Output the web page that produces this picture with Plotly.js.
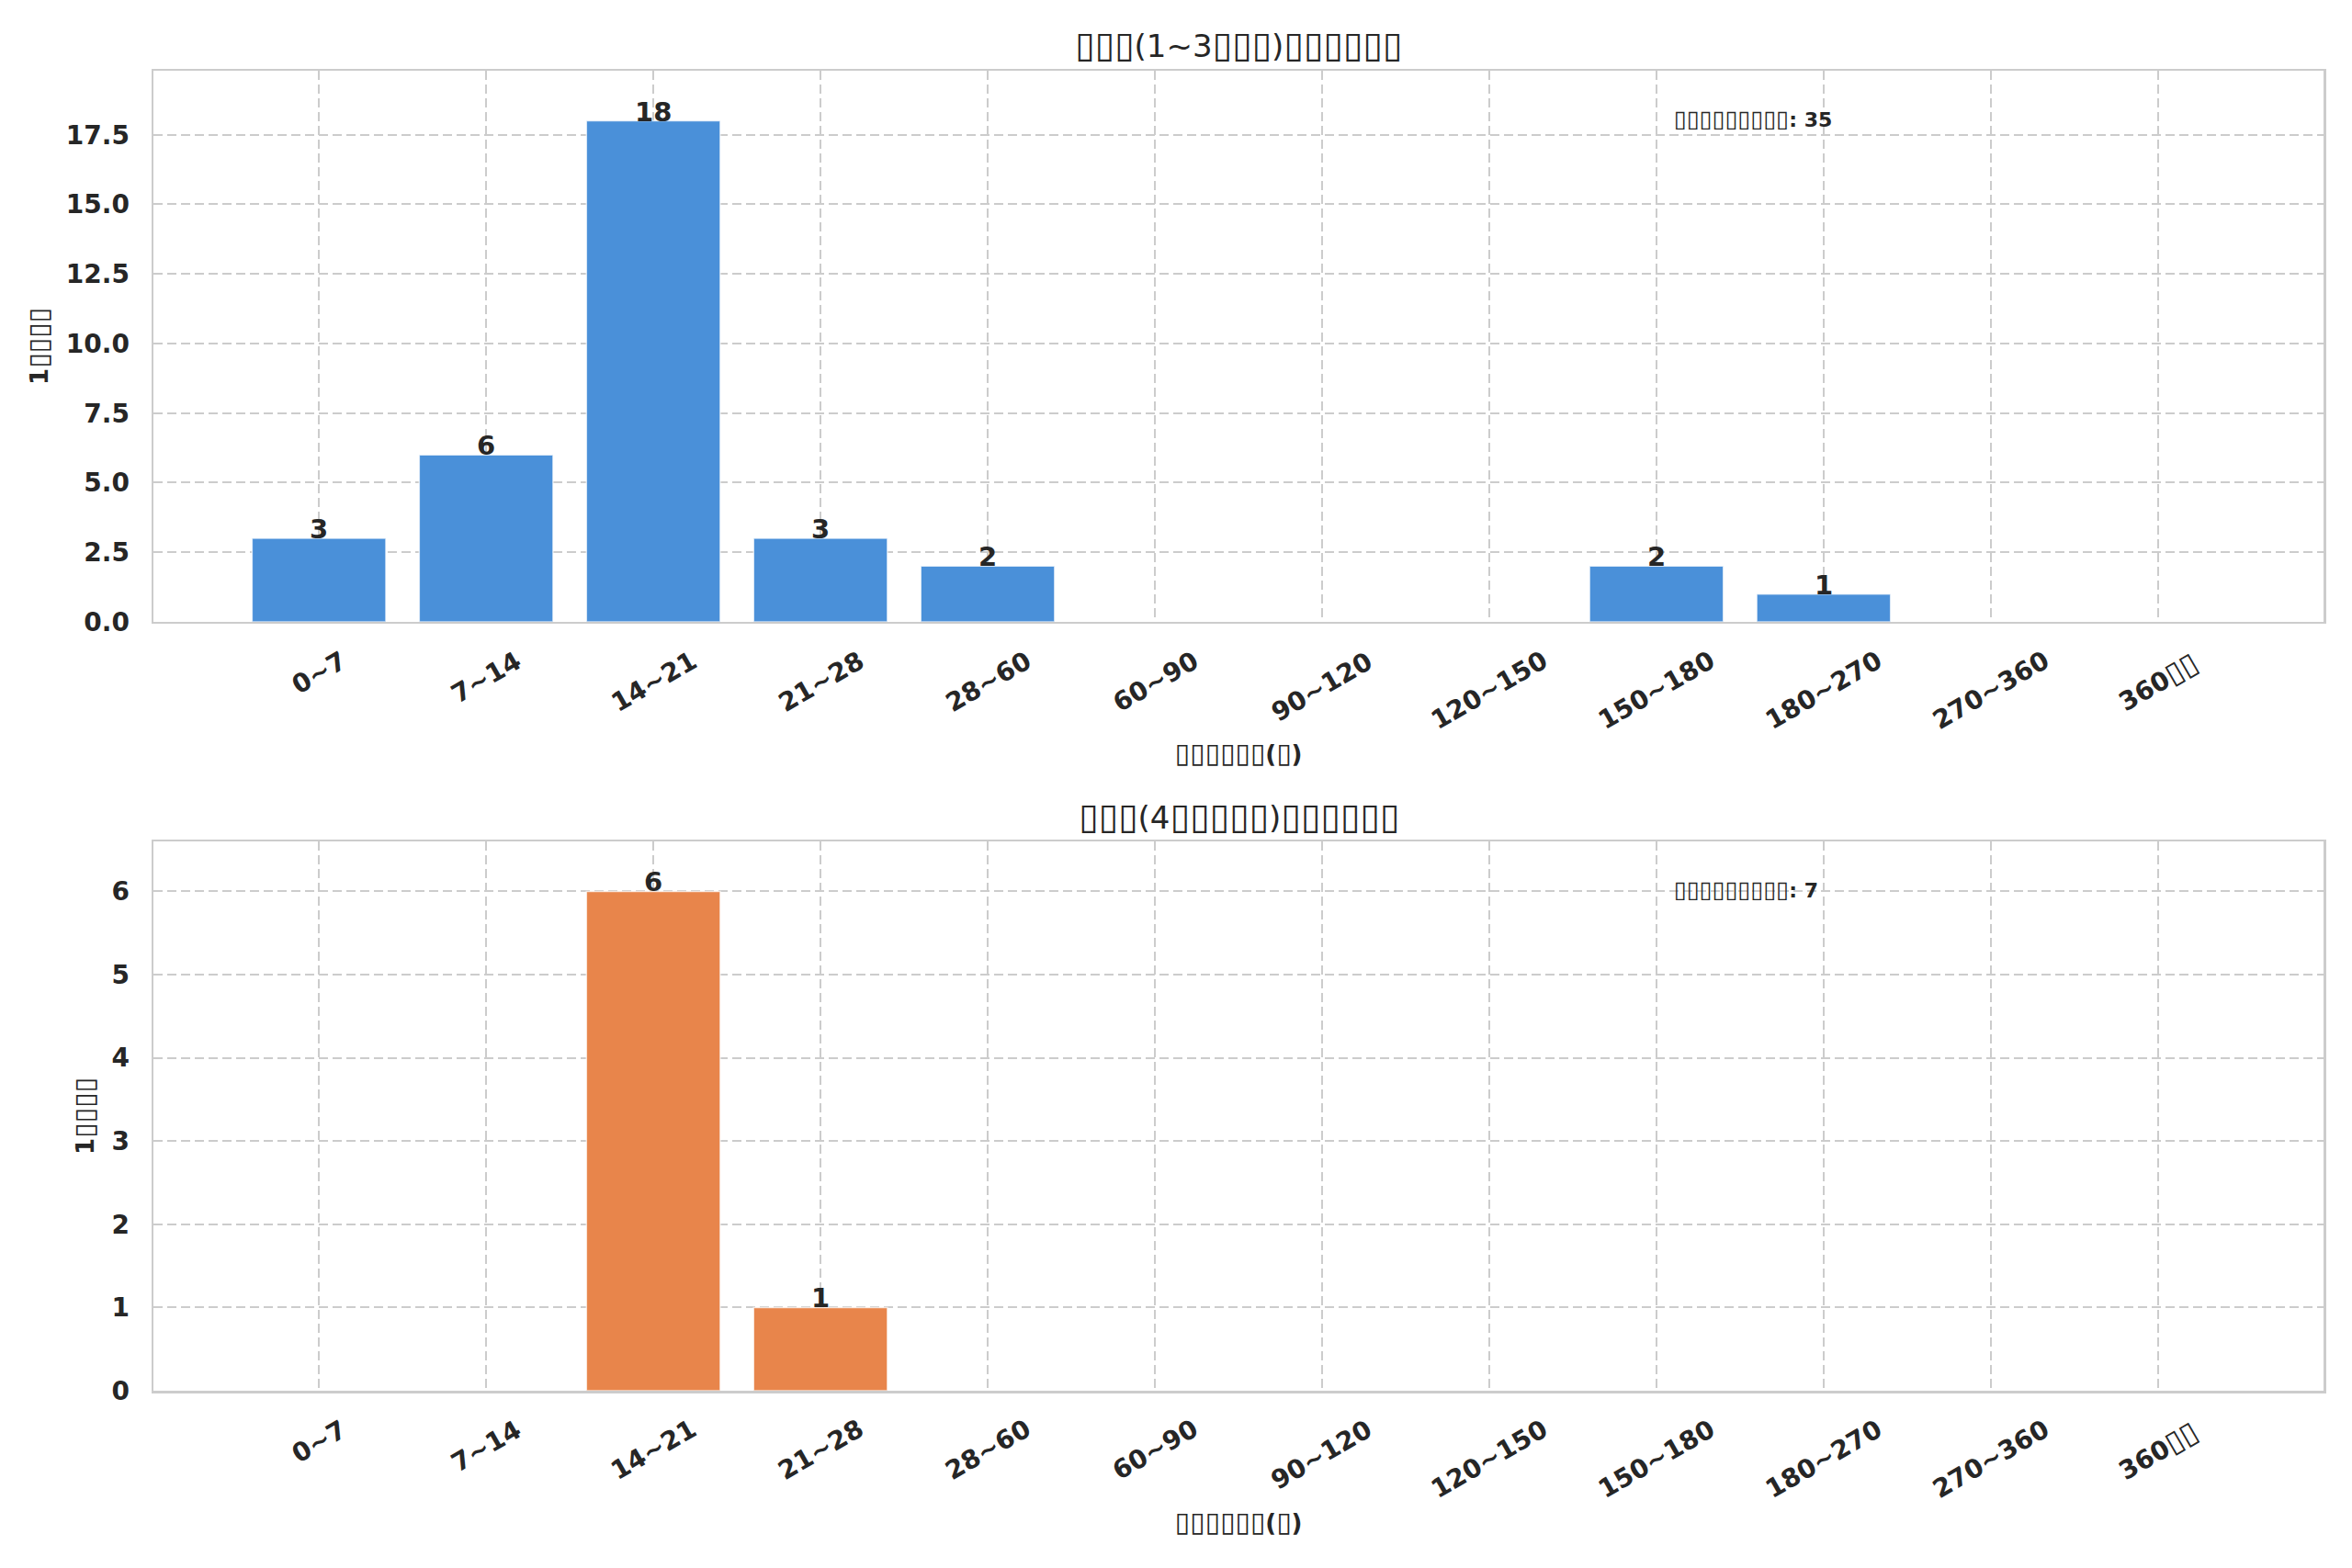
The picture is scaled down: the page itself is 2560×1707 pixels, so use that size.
<!DOCTYPE html>
<html>
<head>
<meta charset="utf-8">
<script src="https://cdn.plot.ly/plotly-3.0.1.min.js"></script>
<style>
  html, body { margin: 0; padding: 0; background: #ffffff; }
  #chart { width: 2560px; height: 1707px; }
</style>
</head>
<body>
<div id="chart"></div>
<script>
// ── data (the source labels render as missing-glyph boxes) ──
const CATEGORIES   = ['0~7', '7~14', '14~21', '21~28', '28~60', '60~90', '90~120',
                      '120~150', '150~180', '180~270', '270~360', '360▯▯'];
const NEW_COUNTS   = [3, 6, 18, 3, 2, 0, 0, 0, 2, 1, 0, 0];
const EXIST_COUNTS = [0, 0, 6, 1, 0, 0, 0, 0, 0, 0, 0, 0];

const TITLE_TOP    = '▯▯▯(1~3▯▯▯)▯▯▯▯▯▯';
const TITLE_BOTTOM = '▯▯▯(4▯▯▯▯▯)▯▯▯▯▯▯';
const X_LABEL      = '▯▯▯▯▯▯(▯)';
const Y_LABEL      = '1▯▯▯▯';
const TOTAL_LABEL  = '▯▯▯▯▯▯▯▯▯';

const FONT = "'DejaVu Sans', sans-serif";
const INK  = '#262626';
const GRID = '#cccccc';

// box glyphs a little larger, closer to the missing-glyph boxes of the source
const tofu = s => s.replace(/▯+/g, m => `<span style="font-size:1.15em">${m}</span>`);
const sum  = arr => arr.reduce((a, b) => a + b, 0);

function barTrace(values, color, xa, ya) {
  return {
    type: 'bar',
    x: CATEGORIES, y: values,
    xaxis: xa, yaxis: ya,
    width: 0.8,
    marker: { color: color, line: { color: 'rgba(255,255,255,0.7)', width: 1.5 } },
    hoverinfo: 'x+y',
  };
}

function xAxis(anchor) {
  return {
    anchor: anchor, domain: [0, 1],
    type: 'category', range: [-0.99, 11.99],
    showticklabels: false, ticks: '',
    showgrid: true, gridcolor: GRID, gridwidth: 2, griddash: '10px,5px',
    showline: true, mirror: true, linecolor: GRID, linewidth: 2.5,
    zeroline: false,
    title: { text: tofu(X_LABEL), standoff: 134, font: { family: FONT, size: 26, color: INK, weight: 'bold' } },
  };
}

function yAxis(anchor, domain, max, dtick, fmt) {
  return {
    anchor: anchor, domain: domain,
    range: [0, max], dtick: dtick, tick0: 0, tickformat: fmt,
    ticks: 'outside', ticklen: 18, tickcolor: 'rgba(0,0,0,0)',
    tickfont: { family: FONT, size: 28, color: INK, weight: 'bold' },
    showgrid: true, gridcolor: GRID, gridwidth: 2, griddash: '10px,5px',
    showline: true, mirror: true, linecolor: GRID, linewidth: 2.5,
    zeroline: false,
    title: { text: tofu(Y_LABEL), standoff: 12, font: { family: FONT, size: 26, color: INK, weight: 'bold' } },
  };
}

function tickLabels(xref, yref) {
  return CATEGORIES.map(c => ({
    x: c, xref: xref, y: -0.038, yref: yref,
    text: tofu(c), textangle: -30, showarrow: false,
    xanchor: 'center', yanchor: 'top',
    font: { family: FONT, size: 28, color: INK, weight: 'bold' },
  }));
}

function barLabels(values, xref, yref) {
  return values.map((v, i) => ({ v: v, c: CATEGORIES[i] }))
    .filter(d => d.v > 0)
    .map(d => ({
      x: d.c, y: d.v, xref: xref, yref: yref,
      text: String(d.v), showarrow: false,
      xanchor: 'center', yanchor: 'bottom', yshift: -9,
      font: { family: FONT, size: 29, color: INK, weight: 'bold' },
    }));
}

const annotations = [
  { text: tofu(TITLE_TOP), xref: 'paper', yref: 'paper', x: 0.5, y: 1.0195, showarrow: false,
    xanchor: 'center', yanchor: 'middle', font: { family: FONT, size: 34, color: INK } },
  { text: tofu(TITLE_BOTTOM), xref: 'paper', yref: 'paper', x: 0.5, y: 0.4356, showarrow: false,
    xanchor: 'center', yanchor: 'middle', font: { family: FONT, size: 34, color: INK } },
  { text: tofu(TOTAL_LABEL) + ': ' + sum(NEW_COUNTS), xref: 'x domain', yref: 'y domain',
    x: 0.70, y: 0.913, xanchor: 'left', yanchor: 'middle', showarrow: false,
    font: { family: FONT, size: 22, color: INK, weight: 'bold' } },
  { text: tofu(TOTAL_LABEL) + ': ' + sum(EXIST_COUNTS), xref: 'x2 domain', yref: 'y2 domain',
    x: 0.70, y: 0.913, xanchor: 'left', yanchor: 'middle', showarrow: false,
    font: { family: FONT, size: 22, color: INK, weight: 'bold' } },
  ...tickLabels('x', 'y domain'),
  ...tickLabels('x2', 'y2 domain'),
  ...barLabels(NEW_COUNTS, 'x', 'y'),
  ...barLabels(EXIST_COUNTS, 'x2', 'y2'),
];

const layout = {
  width: 2560, height: 1707,
  margin: { l: 167, r: 31, t: 77, b: 193 },
  paper_bgcolor: '#ffffff', plot_bgcolor: '#ffffff',
  font: { family: FONT, color: INK },
  showlegend: false,
  xaxis:  xAxis('y'),
  yaxis:  yAxis('x', [0.5825, 1], 19.8, 2.5, '.1f'),
  xaxis2: xAxis('y2'),
  yaxis2: yAxis('x2', [0, 0.4161], 6.6, 1, 'd'),
  annotations: annotations,
};

const traces = [
  barTrace(NEW_COUNTS, '#4a90d9', 'x', 'y'),
  barTrace(EXIST_COUNTS, '#e8854b', 'x2', 'y2'),
];

Plotly.newPlot('chart', traces, layout, { displayModeBar: false, staticPlot: true });
</script>
</body>
</html>
